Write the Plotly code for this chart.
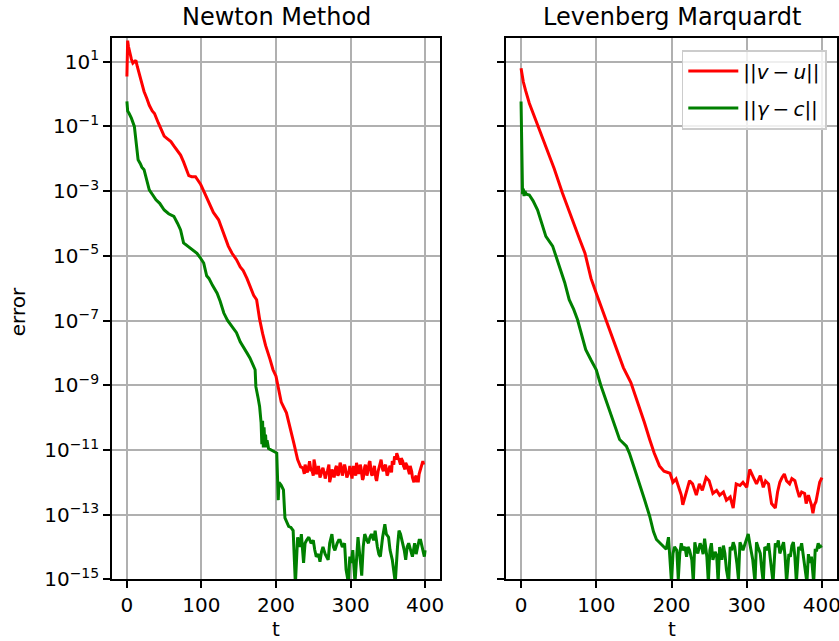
import plotly.graph_objects as go

# ---------------- data ----------------
# Newton Method, ||v-u||
NR_T = [0, 1, 2, 4, 6, 8, 10, 12, 14, 16, 20, 23, 27, 30, 34, 37, 42, 46, 50, 54, 59, 63, 68, 72, 76, 80,
        83, 87, 92, 95, 99, 104, 110, 116, 123, 128, 132, 136, 141, 147, 152, 156, 161, 166, 170, 174, 178,
        182, 186, 192, 196, 200, 207, 214, 219, 224, 229, 233,
        236, 238, 239, 241, 242, 244, 245, 247, 248, 250, 251, 253, 254, 256, 257, 259, 260, 262, 263, 265,
        266, 268, 269, 271, 272, 274, 275, 277, 278, 280, 281, 283, 284, 286, 287, 289, 290, 292, 293, 295,
        296, 298, 299, 301, 302, 304, 305, 307, 308, 310, 311, 313, 314, 316, 317, 319, 320, 322, 323, 325,
        326, 328, 329, 331, 332, 334, 335, 337, 338, 340, 341, 343, 344, 346, 347, 349, 350, 352, 353, 355,
        356, 358, 359, 361, 362, 364, 365, 367, 368, 370, 371, 373, 374, 376, 377, 379, 380, 382, 383, 385,
        386, 388, 389, 391, 392, 394, 395, 397, 398, 400]
NR_Y = [3.5, 45, 30, 18, 12, 9, 10, 11, 7, 4.5, 2.0, 1.2, 0.7, 0.45, 0.3, 0.25, 0.13, 0.08, 0.05, 0.042,
        0.034, 0.025, 0.018, 0.013, 0.008, 0.0045, 0.003, 0.0028, 0.0028, 0.0022, 0.0016, 9e-4, 4.3e-4,
        2.2e-4, 1.3e-4, 6.5e-5, 4e-5, 2e-5, 1.2e-5, 7.6e-6, 4.5e-6, 3.5e-6, 2e-6, 1e-6, 6e-7, 4.4e-7,
        1.1e-7, 4e-8, 1.7e-8, 6.3e-9, 3e-9, 1.9e-9, 3e-10, 1.4e-10, 4.2e-11, 1.6e-11, 5e-12, 3e-12,
        2.8e-12, 1.8e-12, 3.5e-12, 2.5e-12, 2.0e-12, 3.2e-12, 4.5e-12, 2.2e-12, 2.5e-12, 1.6e-12, 5.0e-12,
        2.8e-12, 1.8e-12, 2.2e-12, 3.2e-12, 1.4e-12, 1.6e-12, 2.5e-12, 2.8e-12, 1.8e-12, 1.3e-12, 2.0e-12,
        2.2e-12, 3.5e-12, 1.0e-12, 1.6e-12, 2.5e-12, 1.8e-12, 1.4e-12, 2.8e-12, 3.2e-12, 1.6e-12, 1.8e-12,
        4.0e-12, 3.5e-12, 1.6e-12, 2.0e-12, 3.5e-12, 2.8e-12, 1.4e-12, 1.6e-12, 2.2e-12, 3.2e-12, 1.8e-12,
        1.3e-12, 3.2e-12, 2.5e-12, 1.6e-12, 4.0e-12, 2.5e-12, 1.8e-12, 3.5e-12, 2.8e-12, 1.2e-12, 1.3e-12,
        3.0e-12, 3.5e-12, 1.6e-12, 2.0e-12, 4.0e-12, 4.5e-12, 1.8e-12, 1.6e-12, 2.5e-12, 3.2e-12, 1.3e-12,
        1.1e-12, 2.2e-12, 2.8e-12, 4.0e-12, 5.0e-12, 2.5e-12, 2.2e-12, 3.2e-12, 3.5e-12, 1.6e-12, 1.8e-12,
        2.8e-12, 3.2e-12, 2.0e-12, 4.5e-12, 3.5e-12, 6.3e-12, 5.0e-12, 7.9e-12, 5.6e-12, 5.0e-12, 3.5e-12,
        5.6e-12, 4.5e-12, 3.2e-12, 2.5e-12, 4.0e-12, 3.2e-12, 2.5e-12, 1.8e-12, 3.2e-12, 2.2e-12, 1.4e-12,
        1.0e-12, 1.3e-12, 1.6e-12, 1.1e-12, 1.1e-12, 1.8e-12, 2.5e-12, 3.2e-12, 4.5e-12, 3.5e-12]

# Newton Method, ||gamma-c||
NG_T = [0, 1, 3, 6, 10, 12, 15, 18, 20, 23, 26, 30, 34, 39, 44, 50, 56, 60, 63, 68, 72, 76, 80, 86, 90, 94,
        98, 103, 107, 110, 115, 121, 125, 130, 135, 140, 147, 152, 156, 161, 165, 168, 172, 173, 174, 176,
        178, 179, 180, 181, 182, 183, 184, 185, 186, 187, 188, 190, 193, 196, 199, 201, 203, 204, 207, 210,
        212, 214, 217, 220, 223, 226, 229, 232, 234, 237, 239, 241, 244, 247, 250, 252, 254, 257, 259, 261,
        263, 266, 268, 270, 272, 275, 277, 279, 282, 284, 286, 289, 292, 294, 297, 299, 301, 303, 306, 308,
        310, 313, 315, 317, 319, 322, 324, 326, 328, 331, 333, 336, 338, 340, 343, 346, 348, 351, 353, 356,
        358, 360, 363, 365, 367, 369, 372, 374, 376, 378, 381, 383, 386, 388, 390, 392, 394, 397, 399, 400]
NG_Y = [0.59, 0.3, 0.25, 0.18, 0.1, 0.04, 0.0093, 0.007, 0.0055, 0.0046, 0.0025, 0.0011, 0.0008, 0.00054,
        0.00042, 0.00026, 0.0002, 0.00018, 0.000166, 0.0001, 6.3e-5, 2.5e-5, 2.1e-5, 1.7e-5, 1.4e-5, 1.2e-5,
        9e-6, 6e-6, 2.4e-6, 2.0e-6, 1.2e-6, 7e-7, 4e-7, 1.7e-7, 1.0e-7, 7e-8, 4.2e-8, 2.2e-8, 1.6e-8,
        1.0e-8, 7e-9, 5e-9, 3e-9, 9e-10, 6e-10, 4e-10, 2.2e-10, 1.5e-10, 7e-11, 1.5e-11, 8e-11, 1.2e-11,
        5e-11, 1.5e-11, 3e-11, 1.2e-11, 2e-11, 1.1e-11, 1.0e-11, 9e-12, 8.5e-12, 8e-12, 2.8e-13, 1.0e-12,
        8e-13, 5.8e-13, 7.9e-14, 6e-14, 4.3e-14, 4e-14, 3.2e-14, 7e-16, 2e-14, 1e-14, 2.5e-14, 3.2e-15,
        1.3e-14, 1.6e-14, 2e-14, 1.3e-14, 1.6e-14, 8e-15, 5e-15, 6e-15, 3.5e-15, 7e-15, 1e-14, 6e-15, 5e-15,
        4e-15, 1.3e-14, 2.5e-14, 1e-14, 7.9e-15, 1.3e-14, 1.6e-14, 1.6e-14, 1e-14, 1.3e-14, 2e-15, 7.9e-16,
        5e-15, 3.2e-15, 8e-15, 7.9e-16, 5e-15, 2e-14, 4e-15, 1.3e-15, 1e-14, 2.5e-14, 1.6e-14, 1.3e-14,
        2e-14, 2.5e-14, 1.6e-14, 3.2e-14, 1e-14, 6e-15, 5e-15, 2e-14, 5e-14, 2.5e-14, 2e-14, 8e-15, 4e-15,
        2e-15, 7.9e-16, 1e-14, 3.2e-14, 2.5e-14, 1.6e-14, 8e-15, 4e-15, 1e-14, 1.3e-14, 8e-15, 5e-15,
        1.3e-14, 6e-15, 1e-14, 1.6e-14, 1.6e-14, 8e-15, 5e-15, 7.9e-15]

# Levenberg Marquardt, ||v-u||
LR_T = [0, 1, 3, 6, 11, 22, 33, 44, 55, 66, 78, 85, 93, 100, 110, 118, 126, 136, 146, 157, 164, 171, 177,
        184, 190, 198, 202, 206, 210, 213, 215, 220, 224, 228, 233, 237, 241, 246, 250, 255, 260, 264, 269,
        273, 278, 282, 286, 291, 295, 300, 304, 309, 313, 318, 322, 325, 329, 333, 338, 341, 344, 347, 350,
        353, 357, 360, 364, 367, 370, 373, 377, 379, 382, 384, 386, 388, 390, 392, 395, 397, 400]
LR_Y = [6.3, 4.0, 2.4, 1.3, 0.52, 0.11, 0.024, 0.005, 8.7e-4, 1.7e-4, 3.2e-5, 1.2e-5, 2.0e-6, 7e-7, 1.6e-7,
        5e-8, 1.6e-8, 3.5e-9, 1.2e-9, 2.2e-10, 7e-11, 2.1e-11, 8e-12, 3.2e-12, 2.2e-12, 1.9e-12, 1.0e-12,
        1.26e-12, 6e-13, 4e-13, 2.0e-13, 5.6e-13, 1.12e-12, 8.9e-13, 4e-13, 8.9e-13, 5.6e-13, 1.4e-12,
        1.12e-12, 4.5e-13, 5.6e-13, 4e-13, 5e-13, 2.8e-13, 3.5e-13, 1.6e-13, 8.9e-13, 7.9e-13, 1e-12,
        7e-13, 2.5e-12, 1.4e-12, 8.9e-13, 1.6e-12, 7e-13, 1.1e-12, 8.9e-13, 2.2e-13, 1.6e-13, 5e-13, 1e-12,
        1.4e-12, 1.8e-12, 1.1e-12, 8.9e-13, 1.3e-12, 1.12e-12, 6e-13, 3.5e-13, 5e-13, 4.5e-13, 2.2e-13,
        4e-13, 2.8e-13, 2e-13, 1.1e-13, 2e-13, 2.5e-13, 6e-13, 1e-12, 1.4e-12]

# Levenberg Marquardt, ||gamma-c||
LG_T = [0, 1, 2, 3, 4, 5, 7, 11, 16, 22, 28, 33, 42, 51, 58, 64, 70, 75, 81, 86, 93, 100, 106, 111, 117,
        122, 131, 140, 144, 150, 157, 164, 171, 176, 180, 186, 189, 193, 196, 198, 200, 202, 204, 207, 209,
        211, 213, 215, 218, 220, 222, 224, 227, 229, 231, 233, 235, 238, 240, 242, 244, 247, 249, 251, 253,
        255, 258, 260, 262, 264, 267, 269, 271, 273, 276, 278, 280, 282, 284, 287, 289, 291, 293, 295, 298,
        300, 302, 304, 306, 308, 311, 313, 315, 318, 320, 322, 324, 327, 329, 331, 333, 335, 338, 340, 342,
        344, 347, 349, 351, 353, 356, 358, 360, 362, 364, 366, 369, 371, 373, 375, 377, 380, 382, 384, 386,
        389, 391, 393, 395, 397, 400]
LG_Y = [0.59, 1.4e-3, 8e-4, 1.2e-3, 7e-4, 1e-3, 8e-4, 7.6e-4, 5e-4, 2.6e-4, 1e-4, 4e-5, 2e-5, 4.7e-6,
        1.5e-6, 4.4e-7, 2.2e-7, 1.07e-7, 3.5e-8, 1.26e-8, 6e-9, 3e-9, 1e-9, 4.6e-10, 2e-10, 8.7e-11,
        2.1e-11, 1.3e-11, 8e-12, 3e-12, 1e-12, 3e-13, 8.9e-14, 3e-14, 1.7e-14, 1.2e-14, 1e-14, 8.5e-15,
        2e-14, 3.2e-15, 7.9e-16, 6.3e-15, 1e-14, 7.9e-15, 1e-15, 6.3e-15, 1.3e-14, 7.9e-15, 1e-14, 5e-15,
        1e-14, 7.9e-15, 4e-15, 7.9e-16, 1.4e-14, 8e-15, 6.3e-15, 1.3e-14, 1e-14, 6e-15, 1.8e-14, 5e-15,
        7.9e-16, 7.9e-15, 1.3e-14, 4e-15, 7e-15, 5.6e-15, 7.9e-16, 1e-14, 4e-15, 1.1e-14, 6.3e-15, 2e-15,
        7.9e-16, 1e-14, 7.9e-15, 1.4e-14, 1e-14, 3e-15, 1e-15, 1.4e-14, 1.1e-14, 7.9e-15, 1.3e-14, 1.8e-14,
        2.5e-14, 1.3e-14, 7.9e-15, 4e-15, 7.9e-16, 1.4e-14, 1e-14, 6.3e-15, 2e-15, 7.9e-16, 1e-14, 7.9e-15,
        1.3e-14, 4e-15, 2e-15, 7.9e-16, 1.3e-14, 1e-14, 1.6e-14, 6.3e-15, 1e-14, 1.4e-14, 5e-15, 7.9e-16,
        6e-15, 5e-15, 1.1e-14, 1.4e-14, 5e-15, 7.9e-16, 1e-14, 7.9e-15, 1.3e-14, 6.3e-15, 3e-15, 7.9e-16,
        6e-15, 3.2e-15, 5e-15, 7.9e-16, 7.9e-15, 7.9e-15, 1.3e-14, 1e-14, 1.1e-14]

X_TICKS = [0, 100, 200, 300, 400]
Y_TICKS = [1e1, 1e-1, 1e-3, 1e-5, 1e-7, 1e-9, 1e-11, 1e-13, 1e-15]
Y_TICKTEXT = ["10<sup>1</sup>", "10<sup>−1</sup>", "10<sup>−3</sup>", "10<sup>−5</sup>", "10<sup>−7</sup>",
              "10<sup>−9</sup>", "10<sup>−11</sup>", "10<sup>−13</sup>", "10<sup>−15</sup>"]
TITLES = ["Newton Method", "Levenberg Marquardt"]
LABELS = ["||<i>v</i>\u2009−\u2009<i>u</i>||", "||<i>γ</i>\u2009−\u2009<i>c</i>||"]

# ---------------- figure ----------------
W, H = 839, 641
FONT = "DejaVu Sans"
RED, GREEN = "#ff0000", "#008000"

fig = go.Figure()
fig.add_trace(go.Scatter(x=NR_T, y=NR_Y, mode="lines", line=dict(color=RED, width=3),
                         xaxis="x", yaxis="y", showlegend=False, name=LABELS[0]))
fig.add_trace(go.Scatter(x=NG_T, y=NG_Y, mode="lines", line=dict(color=GREEN, width=3),
                         xaxis="x", yaxis="y", showlegend=False, name=LABELS[1]))
fig.add_trace(go.Scatter(x=LR_T, y=LR_Y, mode="lines", line=dict(color=RED, width=3),
                         xaxis="x2", yaxis="y2", name=LABELS[0], legendgroup="a"))
fig.add_trace(go.Scatter(x=LG_T, y=LG_Y, mode="lines", line=dict(color=GREEN, width=3),
                         xaxis="x2", yaxis="y2", name=LABELS[1], legendgroup="b"))

L1, R1 = 112 / W, 440 / W
L2, R2 = 506 / W, 837 / W
TOP, BOT = 1 - 38 / H, 1 - 579.3 / H

common_x = dict(range=[-20, 420], tickvals=X_TICKS, showgrid=True, gridcolor="#b0b0b0", gridwidth=1.6,
                showline=True, linecolor="black", linewidth=1.6, mirror=True, ticks="outside",
                ticklen=7, tickwidth=1.6, tickcolor="black", zeroline=False, automargin=False,
                ticklabeloverflow="allow",
                tickfont=dict(family=FONT, size=20, color="black"))
common_y = dict(type="log", range=[-15, 1.733], tickvals=Y_TICKS, ticktext=Y_TICKTEXT, showgrid=True,
                gridcolor="#b0b0b0", gridwidth=1.6, showline=True, linecolor="black", linewidth=1.6,
                mirror=True, ticks="outside", ticklen=7, tickwidth=1.6, tickcolor="black",
                zeroline=False, automargin=False, domain=[BOT, TOP], ticklabeloverflow="allow",
                tickfont=dict(family=FONT, size=20, color="black"))

fig.update_layout(
    width=W, height=H, template="none",
    margin=dict(l=0, r=0, t=0, b=0),
    paper_bgcolor="white", plot_bgcolor="white",
    font=dict(family=FONT, size=20, color="black"),
    xaxis=dict(domain=[L1, R1], anchor="y", **common_x),
    xaxis2=dict(domain=[L2, R2], anchor="y2", **common_x),
    yaxis=dict(anchor="x", **common_y),
    yaxis2=dict(anchor="x2", showticklabels=False, **common_y),
    legend=dict(x=826.7 / W, y=1 - 50 / H, xanchor="right", yanchor="top",
                bgcolor="rgba(255,255,255,0.8)", bordercolor="#cccccc", borderwidth=1.6,
                font=dict(family=FONT, size=20, color="black"), itemwidth=50,
                tracegroupgap=8, traceorder="grouped"),
)

ann = []
ann.append(dict(text=TITLES[0], x=(L1 + R1) / 2, y=1 - 16.7 / H, xref="paper", yref="paper",
                xanchor="center", yanchor="middle", showarrow=False, font=dict(size=24, family=FONT)))
ann.append(dict(text=TITLES[1], x=(L2 + R2) / 2, y=1 - 16.7 / H, xref="paper", yref="paper",
                xanchor="center", yanchor="middle", showarrow=False, font=dict(size=24, family=FONT)))
ann.append(dict(text="t", x=(L1 + R1) / 2, y=1 - 629 / H, xref="paper", yref="paper",
                xanchor="center", yanchor="middle", showarrow=False, font=dict(size=20, family=FONT)))
ann.append(dict(text="t", x=(L2 + R2) / 2, y=1 - 629 / H, xref="paper", yref="paper",
                xanchor="center", yanchor="middle", showarrow=False, font=dict(size=20, family=FONT)))
ann.append(dict(text="error", x=17.7 / W, y=1 - 311.5 / H, xref="paper", yref="paper", textangle=-90,
                xanchor="center", yanchor="middle", showarrow=False, font=dict(size=20, family=FONT)))
fig.update_layout(annotations=ann)

fig.write_html("out.html")
